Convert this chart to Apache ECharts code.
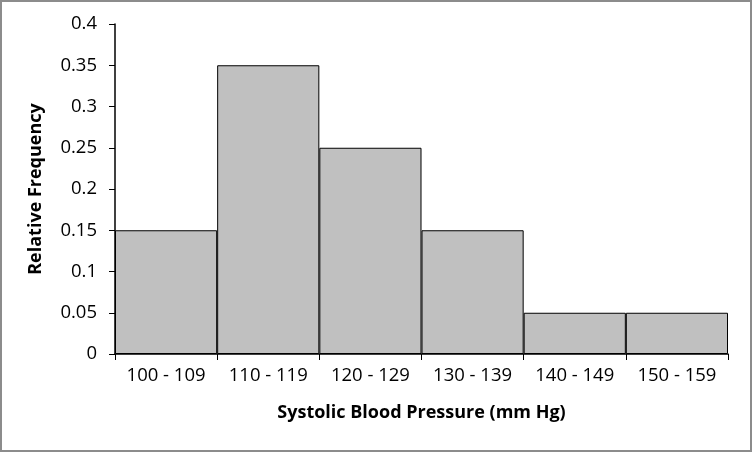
<!DOCTYPE html>
<html><head><meta charset="utf-8">
<script src="https://cdn.jsdelivr.net/npm/echarts@6/dist/echarts.min.js"></script>
<style>
html,body{margin:0;padding:0;background:#fff;}
#wrap{position:absolute;left:0;top:0;width:748px;height:448px;border:2px solid #8c8c8c;}
#c{width:748px;height:448px;}
</style></head>
<body><div id="wrap"><div id="c"></div></div>
<script>
const categories = ['100 - 109','110 - 119','120 - 129','130 - 139','140 - 149','150 - 159'];
const relFreq = [0.15, 0.35, 0.25, 0.15, 0.05, 0.05];
const yTicks = [0, 0.05, 0.1, 0.15, 0.2, 0.25, 0.3, 0.35, 0.4];
const xTitle = 'Systolic Blood Pressure (mm Hg)';
const yTitle = 'Relative Frequency';

const chart = echarts.init(document.getElementById('c'));
const font = '"Open Sans", "Liberation Sans", sans-serif';
chart.setOption({
  animation:false,
  grid:{left:113,right:22,top:22,bottom:96},
  xAxis:{
    type:'category', data:categories, boundaryGap:true,
    axisLine:{lineStyle:{color:'#000',width:1.5}},
    axisTick:{show:true,length:6,interval:0,lineStyle:{color:'#000'}},
    axisLabel:{color:'#000',fontSize:18.5,fontFamily:font,margin:12,interval:0,hideOverlap:false},
    name:xTitle, nameLocation:'middle', nameGap:50,
    nameTextStyle:{color:'#000',fontSize:18,fontWeight:'bold',fontFamily:font}
  },
  yAxis:{
    type:'value', min:yTicks[0], max:yTicks[yTicks.length-1], interval:0.05,
    axisLine:{show:true,lineStyle:{color:'#000',width:1.5}},
    axisTick:{show:true,length:6,lineStyle:{color:'#000'}},
    splitLine:{show:false},
    axisLabel:{color:'#000',fontSize:18.5,fontFamily:font,margin:18},
    name:yTitle, nameLocation:'middle', nameGap:70, nameRotate:90,
    nameTextStyle:{color:'#000',fontSize:18,fontWeight:'bold',fontFamily:font}
  },
  series:[{
    type:'bar', data:relFreq, barWidth:'100%', barCategoryGap:'0%',
    itemStyle:{color:'#c0c0c0',borderColor:'#000',borderWidth:1}
  }]
});
</script></body></html>
